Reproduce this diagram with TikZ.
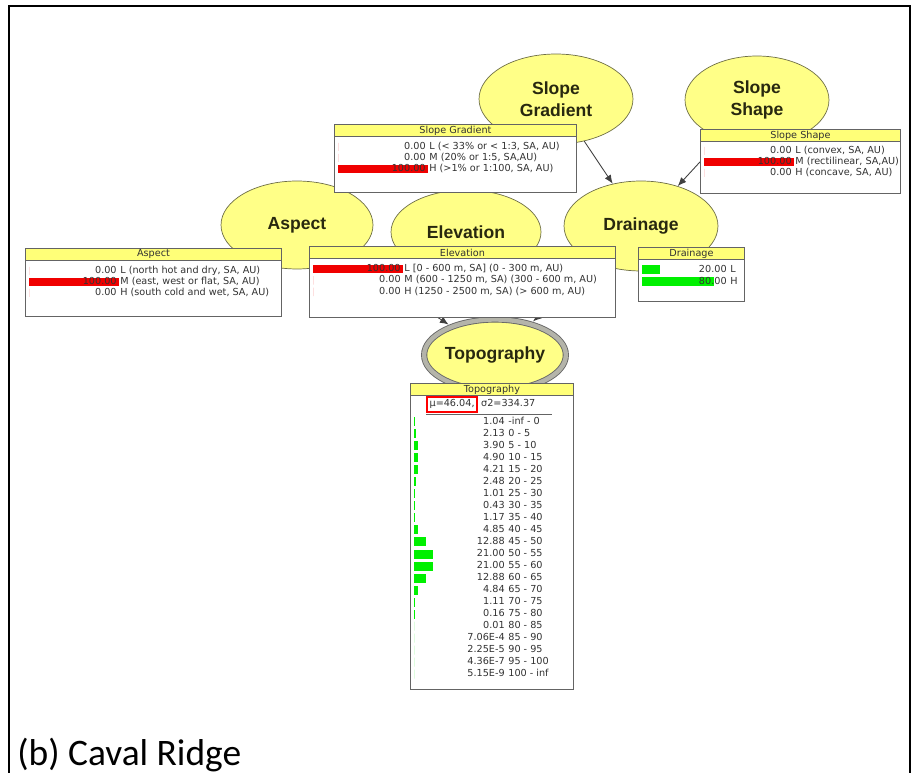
\documentclass[tikz,border=0pt]{standalone}
\usepackage{fontspec}
\setmainfont{Liberation Sans}
\newfontfamily\tabfont{DejaVu Sans}
\newfontfamily\capfont{Carlito}
\usetikzlibrary{shapes.geometric,arrows.meta}
\definecolor{nodeyellow}{RGB}{255,255,135}
\definecolor{nodeline}{RGB}{110,110,70}
\definecolor{nodetext}{RGB}{40,40,15}
\definecolor{titleyellow}{RGB}{255,255,120}
\definecolor{boxline}{RGB}{100,100,100}
\definecolor{barred}{RGB}{240,0,0}
\definecolor{bargreen}{RGB}{0,240,0}
\definecolor{tabtext}{RGB}{50,50,50}
\definecolor{ringgray}{RGB}{180,180,170}

% frame and title bar of one belief table
\newcommand{\beliefbox}[6]{%
  \node[tabbox,minimum width=#4*0.02cm,minimum height=#5*0.02cm] (#1) at (#2,#3) {};
  \node[tabtitle,minimum width=#4*0.02cm,minimum height=12*0.02cm] (#1-title) at (#2,#3) {#6};
}
% name, left x, first row y, value offset, row step, bar colour, rows
\newcommand{\staterows}[7]{%
  \foreach \pv/\plab/\pw [count=\i] in {#7} {
    \fill[#6] (#2+4,{#3+#5*(\i-1)-#5/2+1.5}) rectangle ++(\pw,#5-3);
    \node[val] (#1-v\i) at (#2+#4,{#3+#5*(\i-1)+2.5}) {\pv};
    \node[lab] (#1-l\i) at (#2+#4+3,{#3+#5*(\i-1)+2.5}) {\plab};
  }
}

\begin{document}
\begin{tikzpicture}[x=0.02cm,y=-0.02cm,
    var/.style={ellipse,draw=nodeline,fill=nodeyellow,inner sep=0pt,align=center,
      font=\fontsize{10}{12.5}\selectfont\bfseries,text=nodetext},
    link/.style={draw=black!75,line width=0.5pt,-{Latex[length=5pt,width=4pt]}},
    tabbox/.style={draw=boxline,fill=white,line width=0.5pt,anchor=north west,inner sep=0pt},
    tabtitle/.style={draw=boxline,fill=titleyellow,line width=0.5pt,anchor=north west,
      inner sep=0pt,font=\tabfont\fontsize{5.5}{6}\selectfont,text=tabtext},
    val/.style={anchor=base east,inner sep=0pt,font=\tabfont\fontsize{5.5}{6}\selectfont,text=tabtext},
    lab/.style={anchor=base west,inner sep=0pt,font=\tabfont\fontsize{5.5}{6}\selectfont,text=tabtext}]

  \useasboundingbox (0,0) rectangle (920,773);
  \draw[line width=1.2pt] (9,790) -- (9,6) -- (910,6) -- (910,790);

  \node[var,minimum width=3.08cm,minimum height=1.8cm] (slopegrad) at (556,99) {Slope\\Gradient};
  \node[var,minimum width=2.88cm,minimum height=1.76cm] (slopeshape) at (757,100) {Slope\\Shape};
  \node[var,minimum width=3.04cm,minimum height=1.76cm] (aspect) at (297,225) {Aspect};
  \node[var,minimum width=3cm,minimum height=1.68cm] (elevation) at (466,232) {Elevation};
  \node[var,minimum width=3.08cm,minimum height=1.8cm] (drainage) at (641,226) {Drainage};
  \node[var,minimum width=2.78cm,minimum height=1.42cm,draw=black!60,line width=0.5pt,
    double=ringgray,double distance=2.5pt] (topography) at (495,355) {Topography};

  \draw[link] (slopegrad) -- (drainage);
  \draw[link] (slopeshape) -- (drainage);
  \draw[link,shorten >=2pt] (aspect) -- (topography);
  \draw[link,shorten >=2pt] (drainage) -- (topography);

  \beliefbox{slopegrad-tab}{334}{124}{242}{68}{Slope Gradient}
  \staterows{slopegrad-tab}{334}{147}{92}{11}{barred}{0.00/{L (< 33\% or < 1:3, SA, AU)}/0,
    0.00/{M (20\% or 1:5, SA,AU)}/0, 100.00/{H (>1\% or 1:100, SA, AU)}/90}

  \beliefbox{slopeshape-tab}{700}{129}{200}{64}{Slope Shape}
  \staterows{slopeshape-tab}{700}{151}{92}{11}{barred}{0.00/{L (convex, SA, AU)}/0,
    100.00/{M (rectilinear, SA,AU)}/90, 0.00/{H (concave, SA, AU)}/0}

  \beliefbox{aspect-tab}{25}{248}{256}{68}{Aspect}
  \staterows{aspect-tab}{25}{271}{92}{11}{barred}{0.00/{L (north hot and dry, SA, AU)}/0,
    100.00/{M (east, west or flat, SA, AU)}/90, 0.00/{H (south cold and wet, SA, AU)}/0}

  \beliefbox{elevation-tab}{309}{246}{306}{71}{Elevation}
  \staterows{elevation-tab}{309}{269}{92}{11.5}{barred}{100.00/{L [0 - 600 m, SA] (0 - 300 m, AU)}/90,
    0.00/{M (600 - 1250 m, SA) (300 - 600 m, AU)}/0, 0.00/{H (1250 - 2500 m, SA) (> 600 m, AU)}/0}

  \beliefbox{drainage-tab}{638}{247}{106}{54}{Drainage}
  \staterows{drainage-tab}{638}{270}{89}{12}{bargreen}{20.00/L/18, 80.00/H/72}

  \beliefbox{topography-tab}{410}{383}{163}{306}{Topography}
  \node[lab,anchor=base west,draw=red,line width=1.1pt,inner sep=1.5pt] (topography-mean) at (426,407) {μ=46.04,};
  \node[lab] (topography-sd) at ([xshift=1.5pt]topography-mean.base east) {σ2=334.37};
  \draw[boxline,line width=0.5pt] (426,414) -- (552,414);
  \staterows{topography-tab}{410}{422}{95}{12}{bargreen}{1.04/{-inf - 0}/0.94, 2.13/{0 - 5}/1.9,
    3.90/{5 - 10}/3.5, 4.90/{10 - 15}/4.4, 4.21/{15 - 20}/3.8, 2.48/{20 - 25}/2.2,
    1.01/{25 - 30}/0.9, 0.43/{30 - 35}/0.4, 1.17/{35 - 40}/1.05, 4.85/{40 - 45}/4.4,
    12.88/{45 - 50}/11.6, 21.00/{50 - 55}/18.9, 21.00/{55 - 60}/18.9, 12.88/{60 - 65}/11.6,
    4.84/{65 - 70}/4.4, 1.11/{70 - 75}/1.0, 0.16/{75 - 80}/0.15, 0.01/{80 - 85}/0,
    7.06E-4/{85 - 90}/0, 2.25E-5/{90 - 95}/0, 4.36E-7/{95 - 100}/0, 5.15E-9/{100 - inf}/0}

  \node[anchor=base west,inner sep=0pt,font=\capfont\fontsize{21.3}{25}\selectfont] (caption) at (17,765) {(b) Caval Ridge};
\end{tikzpicture}
\end{document}
